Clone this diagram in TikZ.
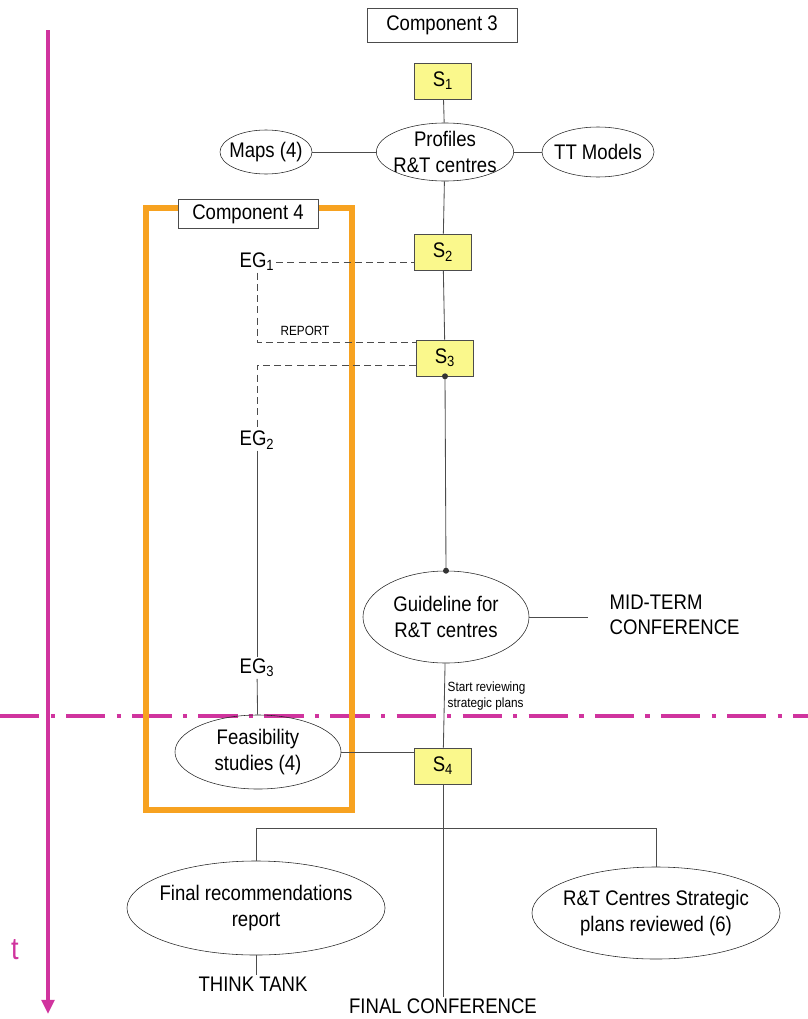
\documentclass[tikz,border=0pt]{standalone}
\usepackage{fontspec}
\setmainfont{Liberation Sans}[FakeStretch=0.88]
\usetikzlibrary{shapes.geometric, arrows.meta}
\definecolor{tmag}{RGB}{208,52,158}
\definecolor{corange}{RGB}{247,162,32}
\definecolor{syellow}{RGB}{250,248,140}
\tikzset{
  stage/.style={draw=black!70, fill=syellow, minimum width=1.43cm, minimum height=0.9cm, inner sep=0pt, font=\fontsize{15}{17}\selectfont},
  compbox/.style={draw=black!70, fill=white, inner sep=0pt, font=\fontsize{15}{17}\selectfont},
  outcome/.style={ellipse, draw=black!85, inner xsep=-10pt, inner ysep=-6pt, align=center, font=\fontsize{15}{18}\selectfont},
  lbl/.style={inner sep=1pt, align=left, font=\fontsize{15}{18}\selectfont},
  small/.style={inner sep=1pt, align=left, font=\fontsize{9.5}{11}\selectfont},
  ln/.style={draw=black!70, line width=0.6pt},
  dl/.style={ln, dash pattern=on 5pt off 3pt}
}
\begin{document}
\begin{tikzpicture}[x=0.025cm, y=-0.025cm]
  \useasboundingbox (0,0) rectangle (808,1019);
  % time axis and mid-term cut
  \coordinate (t0) at (48,30);
  \coordinate (t1) at (48,1014);
  \draw[tmag, line width=2.8pt, -{Triangle[length=10pt,width=9pt]}] (t0) -- (t1);
  \node[text=tmag, font=\fontsize{22}{24}\selectfont] (tl) at (15,950) {t};
  \coordinate (c0) at (0,716);
  \coordinate (c1) at (808,716);
  \draw[tmag, line width=2.8pt, dash pattern=on 28pt off 8pt on 3pt off 8pt] (c0) -- (c1);

  % component 4 frame
  \draw[corange, line width=4.3pt] (146,208) rectangle (352,810);
  \node[compbox, minimum width=3.5cm, minimum height=0.73cm] (c4) at (248,214) {Component 4};

  % component 3 chain
  \node[compbox, minimum width=3.75cm, minimum height=0.85cm] (c3) at (442,25) {Component 3};
  \node[stage] (s1) at (443,81) {S\textsubscript{1}};
  \node[outcome, minimum width=3.43cm, minimum height=1.45cm] (prof) at (445,152) {Profiles\\R\&T centres};
  \node[outcome, minimum width=2.3cm, minimum height=1.1cm] (maps) at (266,152) {Maps (4)};
  \node[outcome, minimum width=2.8cm, minimum height=1.25cm] (tt) at (598,152) {TT Models};
  \node[stage] (s2) at (443,252) {S\textsubscript{2}};
  \node[stage] (s3) at (445,358) {S\textsubscript{3}};
  \node[outcome, minimum width=4.15cm, minimum height=2.3cm] (guide) at (446,617) {Guideline for\\R\&T centres};
  \node[lbl, anchor=west] (mid) at (608,615) {MID-TERM\\CONFERENCE};
  \node[small, anchor=west] (rev) at (446,696) {Start reviewing\\strategic plans};
  \node[stage] (s4) at (443,766) {S\textsubscript{4}};

  % expert groups
  \node[lbl] (eg1) at (257,262) {EG\textsubscript{1}};
  \node[small] (rep) at (305,331) {REPORT};
  \node[lbl] (eg2) at (257,440) {EG\textsubscript{2}};
  \node[lbl] (eg3) at (257,668) {EG\textsubscript{3}};
  \node[outcome, minimum width=4.15cm, minimum height=1.85cm] (feas) at (258,752) {Feasibility\\studies (4)};

  % final outputs
  \coordinate (j) at (443,828);
  \node[outcome, minimum width=6.45cm, minimum height=2.35cm] (rec) at (256,908) {Final recommendations\\report};
  \node[outcome, minimum width=6.2cm, minimum height=2.3cm] (rt) at (656,913) {R\&T Centres Strategic\\plans reviewed (6)};
  \node[lbl] (think) at (253,984) {THINK TANK};
  \node[lbl] (fin) at (443,1006) {FINAL CONFERENCE};

  % connectors
  \draw[ln] (s1) -- (prof);
  \draw[ln] (maps) -- (prof);
  \draw[ln] (prof) -- (tt);
  \draw[ln] (prof) -- (s2);
  \draw[ln] (s2) -- (s3);
  \draw[ln] (s3.south) -- (guide.north);
  \fill[black!80] (s3.south) circle (3);
  \fill[black!80] (guide.north) circle (3);
  \draw[ln, shorten >=14pt] (guide.east) -- (guide.east -| mid.west);
  \draw[ln] (guide) -- (s4);
  \draw[ln] (s4) -- (fin);
  \draw[ln] (rec.north) |- (j) -| (rt.north);
  \draw[ln] (rec.south) -- (rec.south |- think.north);
  \draw[ln] (feas.east) -- (feas.east -| s4.west);
  \draw[dl] (eg1.east) -- (eg1.east -| s2.west);
  \draw[dl] (eg1.south) |- ([yshift=11pt]s3.west);
  \draw[dl] ([yshift=-5pt]s3.west) -| (eg2.north);
  \draw[ln] (eg2) -- (eg3);
  \draw[ln] (eg3) -- (feas);
\end{tikzpicture}
\end{document}
